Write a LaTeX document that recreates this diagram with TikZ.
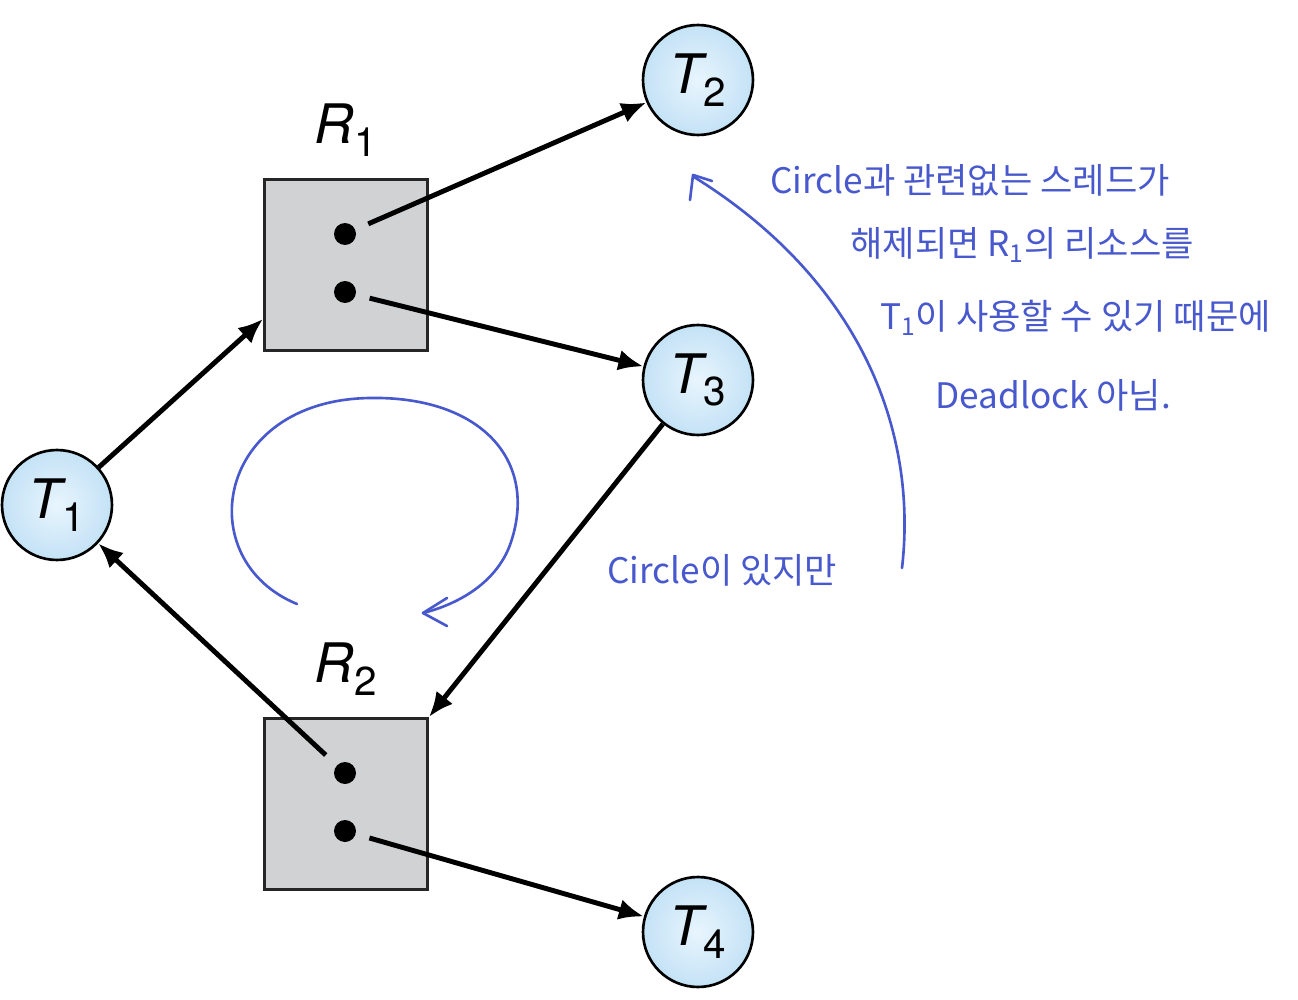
\documentclass[tikz,border=0pt]{standalone}
\usepackage{fontspec}
\setsansfont{TeX Gyre Heros}
\newfontfamily\kr{Noto Sans CJK KR}
\usetikzlibrary{positioning,arrows.meta,calc}
\definecolor{ink}{RGB}{72,88,205}
\definecolor{ballin}{RGB}{232,245,253}
\definecolor{ballout}{RGB}{196,226,246}
\definecolor{resgray}{RGB}{209,210,212}
\newcommand{\tlabel}[2]{{\itshape #1}\kern0.5pt\raisebox{-0.45ex}{\fontsize{23}{23}\selectfont #2}}

\begin{document}
\begin{tikzpicture}[x=0.02cm, y=-0.02cm, font=\sffamily\fontsize{31}{36}\selectfont,
  thread/.style={circle, draw, line width=1.5pt, minimum size=2.2cm, inner sep=0pt, inner color=ballin, outer color=ballout},
  res/.style={rectangle, draw=black!85, line width=1.6pt, fill=resgray, minimum width=3.26cm, minimum height=3.42cm},
  dot/.style={circle, fill=black, minimum size=0.44cm, inner sep=0pt},
  edge/.style={-{Latex[length=0.5cm,width=0.42cm]}, line width=2.8pt},
  note/.style={ink, font=\kr\fontsize{20}{24}\selectfont, anchor=west, inner sep=0pt},
  pen/.style={ink, line width=1.5pt, line cap=round, line join=round}]
  \useasboundingbox (0,0) rectangle (1298,1000);

  \node[thread] (t1) at (57,505) {\tlabel{T}{1}};
  \node[thread] (t2) at (698,80) {\tlabel{T}{2}};
  \node[thread] (t3) at (698,380) {\tlabel{T}{3}};
  \node[thread] (t4) at (698,932) {\tlabel{T}{4}};

  \node[res] (r1) at (346,265) {};
  \node[res] (r2) at (346,804) {};
  \node[inner sep=0pt, above=0.42cm of r1] (r1lbl) {\tlabel{R}{1}};
  \node[inner sep=0pt, above=0.42cm of r2] (r2lbl) {\tlabel{R}{2}};
  \node[dot] (r1a) at (345,234) {};
  \node[dot] (r1b) at (345,292) {};
  \node[dot] (r2a) at (345,773) {};
  \node[dot] (r2b) at (345,831) {};

  \draw[edge] (t1) -- ($(r1.south west)!0.19!(r1.north west)$);
  \draw[edge, shorten <=0.28cm] (r1a) -- (t2);
  \draw[edge, shorten <=0.28cm] (r1b) -- (t3);
  \draw[edge] (t3) -- (r2.north east);
  \draw[edge, shorten <=0.3cm] (r2a) -- (t1);
  \draw[edge, shorten <=0.28cm] (r2b) -- (t4);

  % handwritten notes
  \draw[pen] (297,604) .. controls (190,560) and (215,400) .. (370,398)
    .. controls (480,396) and (540,460) .. (510,545)
    .. controls (495,585) and (455,605) .. (423,613);
  \draw[pen] (447,598) -- (423,613) -- (447,626);
  \draw[pen] (902,568) .. controls (918,430) and (860,280) .. (694,177);
  \draw[pen] (690,200) -- (693,175) -- (712,181);

  \node[note] (n1) at (770,180) {Circle과 관련없는 스레드가};
  \node[note] (n2) at (850,245) {해제되면 R\textsubscript{1}의 리소스를};
  \node[note] (n3) at (880,318) {T\textsubscript{1}이 사용할 수 있기 때문에};
  \node[note] (n4) at (935,395) {Deadlock 아님.};
  \node[note] (n5) at (607,570) {Circle이 있지만};
\end{tikzpicture}
\end{document}
